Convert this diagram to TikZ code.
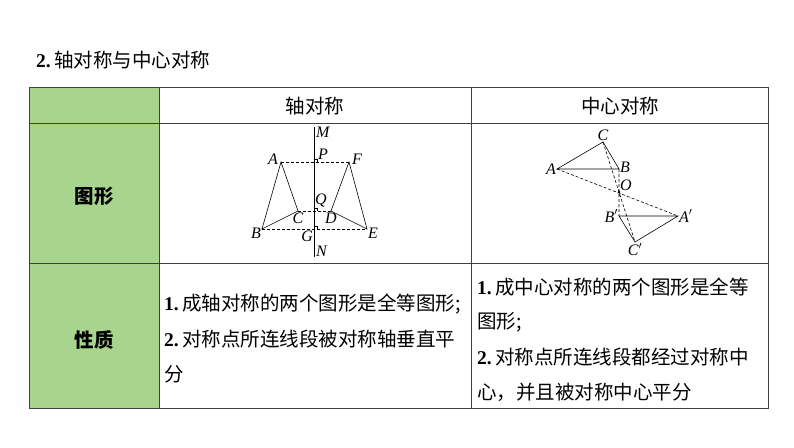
\documentclass[tikz,border=0pt]{standalone}
\usepackage{fontspec}
\usetikzlibrary{calc}
\setmainfont{Liberation Serif}
\newfontfamily\cjk{Noto Sans CJK SC}
\newcommand\nb[1]{{\rmfamily\bfseries #1}}
\begin{document}
\begin{tikzpicture}[x=1pt,y=-1pt,
  grid/.style={draw=black!75,line width=0.8pt},
  fig/.style={line width=0.6pt},
  dsh/.style={line width=0.6pt,dash pattern=on 3pt off 2pt},
  lab/.style={font=\itshape\fontsize{16}{16}\selectfont,inner sep=1pt},
  txt/.style={font=\cjk\fontsize{19.5}{20}\selectfont,anchor=west,inner sep=0pt}]
\useasboundingbox (0,0) rectangle (794,447);
\fill[fill={rgb,255:red,168;green,212;blue,142}] (29,87) rectangle (159,408);
\draw[grid] (29,87) rectangle (768,408);
\draw[grid] (159,87)--(159,408) (471,87)--(471,408);
\draw[grid] (29,123)--(768,123) (29,263)--(768,263);
\node[txt] (title) at (36,60) {\nb{2.}\,轴对称与中心对称};
\node[txt,anchor=center] (h1) at (315,106) {轴对称};
\node[txt,anchor=center] (h2) at (620,106) {中心对称};
\node[txt,anchor=center,font=\cjk\bfseries\fontsize{19.5}{20}\selectfont] (r1) at (94,196) {图形};
\node[txt,anchor=center,font=\cjk\bfseries\fontsize{19.5}{20}\selectfont] (r2) at (94,340) {性质};
\node[txt] (t1) at (164,304) {\nb{1.}\,成轴对称的两个图形是全等图形;};
\node[txt] (t2) at (164,339) {\nb{2.}\,对称点所连线段被对称轴垂直平};
\node[txt] (t3) at (164,374) {分};
\node[txt] (u1) at (477,287) {\nb{1.}\,成中心对称的两个图形是全等};
\node[txt] (u2) at (477,322) {图形;};
\node[txt] (u3) at (477,357) {\nb{2.}\,对称点所连线段都经过对称中};
\node[txt] (u4) at (477,392) {心，并且被对称中心平分};
% axial figure
\coordinate (M) at (314,127); \coordinate (N) at (314,257);
\coordinate (A) at (281,162); \coordinate (F) at (349,162);
\coordinate (B) at (262,229); \coordinate (E) at (367,229);
\coordinate (C) at (298,211); \coordinate (D) at (331,211);
\coordinate (P) at (314,162); \coordinate (Q) at (314,211); \coordinate (G) at (314,229);
\draw[fig] (M)--(N);
\draw[fig] (A)--(B)--(C)--cycle (F)--(E)--(D)--cycle;
\draw[dsh] (A)--(F) (C)--(D) (B)--(E);
\foreach \p in {P,Q,G}{\draw[line width=0.5pt] ($(\p)+(0,-3)$) -| ($(\p)+(3,0)$);}
\node[lab,right] at ($(M)+(1,5)$) {M};
\node[lab,above right] at ($(P)+(3,-1)$) {P};
\node[lab,left] at ($(A)+(-2,-3)$) {A};
\node[lab,right] at ($(F)+(2,-3)$) {F};
\node[lab,above right] at ($(Q)+(0,-3)$) {Q};
\node[lab,below] at ($(C)+(0,1)$) {C};
\node[lab,below] at ($(D)+(0,1)$) {D};
\node[lab,left] at ($(B)+(0,4)$) {B};
\node[lab,right] at ($(E)+(0,4)$) {E};
\node[lab,below left] at ($(G)+(0,1)$) {G};
\node[lab,right] at ($(N)+(1,-6)$) {N};
% central figure
\coordinate (O) at (619,192);
\coordinate (A2) at (557,169); \coordinate (Ap) at (678,216);
\coordinate (B2) at (619,169); \coordinate (Bp) at (619,216);
\coordinate (C2) at (603,142); \coordinate (Cp) at (635,242);
\draw[fig] (A2)--(B2)--(C2)--cycle (Ap)--(Bp)--(Cp)--cycle;
\draw[dsh] (A2)--(Ap) (B2)--(Bp) (C2)--(Cp);
\fill (O) circle (1.3pt);
\node[lab,left] at (A2) {A};
\node[lab,above] at (C2) {C};
\node[lab,right] at ($(B2)+(0,-2)$) {B};
\node[lab,above right] at (O) {O};
\node[lab,left] at (Bp) {B$'$};
\node[lab,right] at (Ap) {A$'$};
\node[lab,below] at (Cp) {C$'$};
\end{tikzpicture}
\end{document}
